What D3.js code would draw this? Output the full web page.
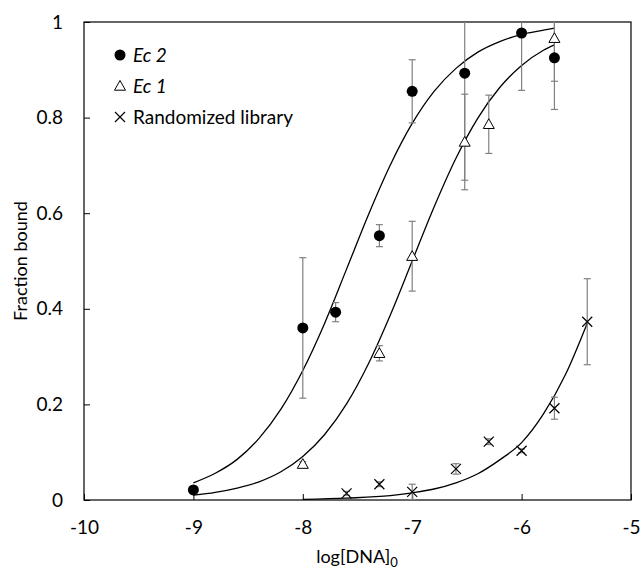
<!DOCTYPE html>
<html>
<head>
<meta charset="utf-8">
<script src="https://cdnjs.cloudflare.com/ajax/libs/d3/7.8.5/d3.min.js"></script>
<style>
  body { margin: 0; background: #fff; }
  svg { font-family: Lato, "Open Sans", sans-serif; }
</style>
</head>
<body>
<svg id="chart" width="642" height="569"></svg>
<script>
// measured points (log concentration, fraction bound, error)
var ec2X = [-9, -8, -7.7, -7.3, -7, -6.52, -6, -5.7]
var ec2Y = [0.021, 0.36, 0.393, 0.553, 0.855, 0.893, 0.977, 0.925]
var ec2Err = [0.008, 0.147, 0.02, 0.023, 0.066, 0.224, 0.12, 0.108]

var ec1X = [-8, -7.3, -7, -6.52, -6.3, -5.7]
var ec1Y = [0.075, 0.307, 0.51, 0.749, 0.786, 0.966]
var ec1Err = [0.005, 0.016, 0.073, 0.1, 0.061, 0.09]

var rndX = [-7.6, -7.3, -7, -6.6, -6.3, -6, -5.7, -5.4]
var rndY = [0.014, 0.033, 0.017, 0.065, 0.122, 0.103, 0.192, 0.373]
var rndErr = [0.004, 0.005, 0.016, 0.011, 0.006, 0.004, 0.023, 0.09]

// fitted curves
var fitX = [-9, -8.8, -8.6, -8.4, -8.2, -8, -7.8, -7.6, -7.4, -7.2, -7, -6.8, -6.6, -6.4, -6.2, -6, -5.8, -5.7]
var ec2FitY = [0.036, 0.056, 0.085, 0.129, 0.19, 0.271, 0.37, 0.483, 0.597, 0.701, 0.788, 0.855, 0.903, 0.937, 0.959, 0.974, 0.983, 0.987]
var ec1FitY = [0.01, 0.016, 0.025, 0.038, 0.059, 0.091, 0.137, 0.201, 0.285, 0.387, 0.5, 0.613, 0.715, 0.799, 0.863, 0.909, 0.941, 0.952]
var rndFitX = [-8, -7.6, -7.2, -7, -6.8, -6.6, -6.4, -6.2, -6, -5.8, -5.6, -5.4]
var rndFitY = [0.0015, 0.004, 0.009, 0.015, 0.023, 0.036, 0.055, 0.084, 0.12, 0.18, 0.262, 0.37]

var xTicks = [-10, -9, -8, -7, -6, -5]
var yTicks = [0, 0.2, 0.4, 0.6, 0.8, 1]
var legendNames = ["Ec 2", "Ec 1", "Randomized library"]

var svg = d3.select("#chart")
var margin = {top: 22, right: 11, bottom: 69, left: 84}
var width = 642 - margin.left - margin.right
var height = 569 - margin.top - margin.bottom

var x = d3.scaleLinear().domain([-10, -5]).range([0, width])
var y = d3.scaleLinear().domain([0, 1]).range([height, 0])

var g = svg.append("g").attr("transform", "translate(" + margin.left + "," + margin.top + ")")

g.append("defs").append("clipPath").attr("id", "plotclip")
    .append("rect").attr("width", width).attr("height", height)

// axes with inside ticks
var xAxis = g.append("g")
    .attr("transform", "translate(0," + height + ")")
    .call(d3.axisBottom(x).tickValues(xTicks).tickSize(-6).tickPadding(21).tickFormat(function(d) { return String(d) }))
var yAxis = g.append("g")
    .call(d3.axisLeft(y).tickValues(yTicks).tickSize(-6).tickPadding(21).tickFormat(function(d) { return String(+d.toFixed(1)) }))

;[xAxis, yAxis].forEach(function(a) {
    a.select(".domain").remove()
    a.selectAll("line").attr("stroke", "#000")
    a.selectAll("text").attr("font-size", 19).attr("fill", "#000").attr("font-family", "Lato, sans-serif")
})

g.append("rect")
    .attr("width", width).attr("height", height)
    .attr("fill", "none").attr("stroke", "#000").attr("stroke-width", 1.2)

function zip(xs, ys, es) {
    return xs.map(function(v, i) { return {x: v, y: ys[i], e: es ? es[i] : 0} })
}

var ec2 = zip(ec2X, ec2Y, ec2Err)
var ec1 = zip(ec1X, ec1Y, ec1Err)
var rnd = zip(rndX, rndY, rndErr)

// fit lines
var line = d3.line().x(function(d) { return x(d.x) }).y(function(d) { return y(d.y) }).curve(d3.curveMonotoneX)
var fits = [zip(fitX, ec2FitY), zip(fitX, ec1FitY), zip(rndFitX, rndFitY)]
g.append("g").selectAll("path").data(fits).enter().append("path")
    .attr("d", line)
    .attr("fill", "none").attr("stroke", "#000").attr("stroke-width", 1.3)

// error bars
var bars = g.append("g").attr("clip-path", "url(#plotclip)")
    .attr("stroke", "#808080").attr("stroke-width", 1.2)
;[ec2, ec1, rnd].forEach(function(series) {
    series.forEach(function(d) {
        var cx = x(d.x)
        bars.append("line").attr("x1", cx).attr("x2", cx).attr("y1", y(d.y - d.e)).attr("y2", y(d.y + d.e))
        bars.append("line").attr("x1", cx - 3.5).attr("x2", cx + 3.5).attr("y1", y(d.y - d.e)).attr("y2", y(d.y - d.e))
        bars.append("line").attr("x1", cx - 3.5).attr("x2", cx + 3.5).attr("y1", y(d.y + d.e)).attr("y2", y(d.y + d.e))
    })
})

// markers
function drawCircle(sel) {
    sel.append("circle").attr("r", 5.5).attr("fill", "#000")
}
function drawTriangle(sel) {
    sel.append("path").attr("d", "M0,-5.5L5.5,4.2L-5.5,4.2Z").attr("fill", "#fff").attr("stroke", "#000").attr("stroke-width", 1)
}
function drawCross(sel) {
    sel.append("path").attr("d", "M-5,-5L5,5M-5,5L5,-5").attr("fill", "none").attr("stroke", "#000").attr("stroke-width", 1.2)
}
var painters = [drawCircle, drawTriangle, drawCross]

;[ec2, ec1, rnd].forEach(function(series, k) {
    var m = g.append("g").selectAll("g").data(series).enter().append("g")
        .attr("transform", function(d) { return "translate(" + x(d.x) + "," + y(d.y) + ")" })
    painters[k](m)
})

// legend
var legend = svg.append("g")
legendNames.forEach(function(name, i) {
    var row = legend.append("g").attr("transform", "translate(120," + (55 + i * 31) + ")")
    painters[i](row)
    row.append("text")
        .attr("x", 13).attr("y", 7)
        .attr("font-size", 19)
        .attr("font-style", i < 2 ? "italic" : "normal")
        .text(name)
})

// axis titles
svg.append("text")
    .attr("transform", "translate(27,261) rotate(-90)")
    .attr("text-anchor", "middle")
    .attr("font-size", 18)
    .text("Fraction bound")

var xt = svg.append("text")
    .attr("x", 357).attr("y", 563)
    .attr("text-anchor", "middle")
    .attr("font-size", 18)
xt.append("tspan").text("log[DNA]")
xt.append("tspan").attr("font-size", 13).attr("dy", 4).text("0")
</script>
</body>
</html>
